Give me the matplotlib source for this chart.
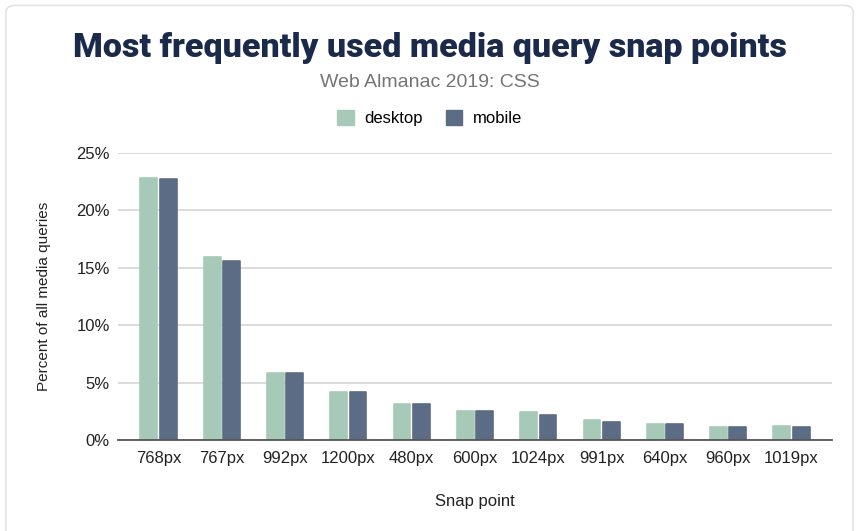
""" Media query snap points bar chart """

import numpy as np
import matplotlib.pyplot as plt
from matplotlib.patches import FancyBboxPatch, Patch

# data (percent of all media queries)
snap_points = ['768px', '767px', '992px', '1200px', '480px', '600px',
               '1024px', '991px', '640px', '960px', '1019px']
desktop = [22.8, 15.9, 5.8, 4.2, 3.1, 2.5, 2.4, 1.7, 1.4, 1.1, 1.2]
mobile = [22.7, 15.6, 5.8, 4.2, 3.1, 2.5, 2.2, 1.6, 1.4, 1.1, 1.1]
y_ticks = [0, 5, 10, 15, 20, 25]

DESKTOP_COLOR = '#a7c9b8'
MOBILE_COLOR = '#5d6c85'

plt.rcParams['font.family'] = ['Liberation Sans', 'DejaVu Sans']

fig = plt.figure(figsize=(8.59, 5.31), dpi=100)

# card border (bottom runs off the image like in the screenshot)
card = FancyBboxPatch((0.007, -0.1), 0.986, 1.09, boxstyle='round,pad=0,rounding_size=0.012',
                      transform=fig.transFigure, facecolor='none', edgecolor='#e3e3e3',
                      linewidth=1.2, zorder=-1)
fig.patches.append(card)

ax = fig.add_axes([0.1374, 0.1714, 0.8312, 0.5405])
ax.set_facecolor('none')

x = np.arange(len(snap_points))
w = 0.265
ax.bar(x - w / 2 - 0.02, desktop, w, color=DESKTOP_COLOR, edgecolor=DESKTOP_COLOR,
       linewidth=1.2, joinstyle='round', zorder=3)
ax.bar(x + w / 2 + 0.02, mobile, w, color=MOBILE_COLOR, edgecolor=MOBILE_COLOR,
       linewidth=1.2, joinstyle='round', zorder=3)

ax.set_xlim(-0.64, 10.64)
ax.set_ylim(0, 25)
ax.set_yticks(y_ticks)
ax.set_yticklabels([f'{t}%' for t in y_ticks])
ax.set_xticks(x)
ax.set_xticklabels(snap_points)
ax.tick_params(length=0, labelsize=12, labelcolor='#222222')
ax.tick_params(axis='y', pad=6)
ax.tick_params(axis='x', pad=8)
ax.grid(axis='y', color='#d6d6d6', linewidth=1.2, zorder=0)
for s in ['top', 'right', 'left']:
    ax.spines[s].set_visible(False)
ax.spines['bottom'].set_color('#555555')
ax.spines['bottom'].set_linewidth(1.3)
ax.spines['bottom'].set_zorder(4)

ax.set_xlabel('Snap point', fontsize=12, color='#222222', labelpad=20)
ax.set_ylabel('Percent of all media queries', fontsize=11, color='#222222', labelpad=18)

fig.text(0.5, 0.91, 'Most frequently used media query snap points', ha='center', va='center',
         fontsize=24.5, fontweight='black', family='Roboto', color='#1b2a4a')
fig.text(0.5, 0.845, 'Web Almanac 2019: CSS', ha='center', va='center',
         fontsize=14, color='#757575')

handles = [Patch(color=DESKTOP_COLOR, label='desktop'), Patch(color=MOBILE_COLOR, label='mobile')]
fig.legend(handles=handles, loc='center', bbox_to_anchor=(0.5, 0.778), ncol=2, frameon=False,
           fontsize=12, handlelength=1.0, handleheight=1.0, handletextpad=0.6, columnspacing=1.4)

plt.savefig('out.png', dpi=100)
